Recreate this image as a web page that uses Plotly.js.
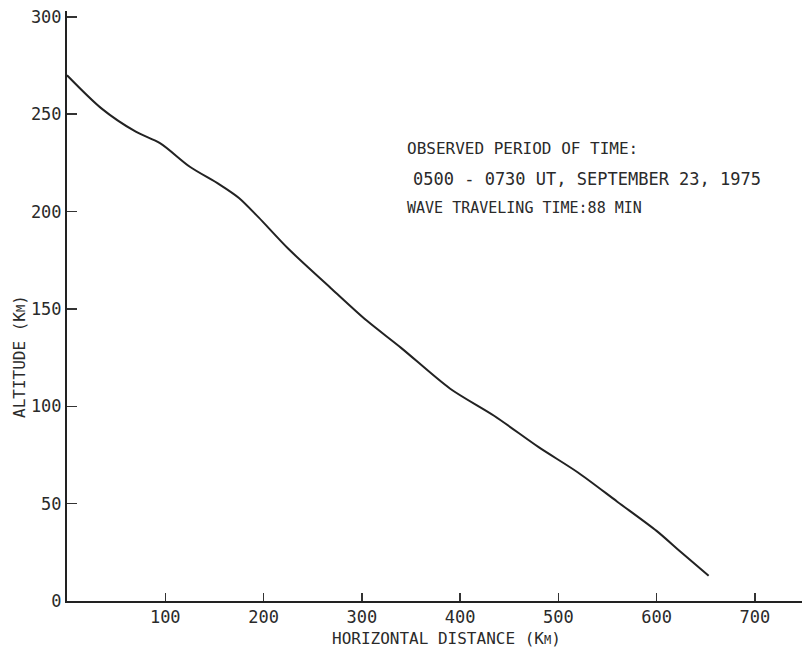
<!DOCTYPE html>
<html>
<head>
<meta charset="utf-8">
<script src="https://cdn.plot.ly/plotly-3.0.1.min.js"></script>
<style>html,body{margin:0;padding:0;background:#fff;}#chart{width:802px;height:651px;}</style>
</head>
<body>
<div id="chart"></div>
<script>
// Horizontal distance (km) and altitude (km)
const distanceKm = [0, 35, 70, 95, 125, 155, 175, 195, 225, 270, 305, 340, 390, 435, 480, 520, 560, 600, 625, 653];
const altitudeKm = [270, 253, 241, 235, 223, 214, 207, 197, 181, 160, 144, 130, 109, 95, 79, 66, 51, 36, 25, 13];

const xTicks = [100, 200, 300, 400, 500, 600, 700];
const yTicks = [0, 50, 100, 150, 200, 250, 300];

const noteLines = [
  "OBSERVED PERIOD OF TIME:",
  "0500 - 0730 UT, SEPTEMBER 23, 1975",
  "WAVE TRAVELING TIME:88 MIN"
];

const FONT = "DejaVu Sans Mono, monospace";
const INK = "#2a2a2a";

const trace = {
  x: distanceKm, y: altitudeKm, type: "scatter", mode: "lines",
  line: {color: "#222", width: 2, shape: "spline", smoothing: 0.8},
  hoverinfo: "x+y", showlegend: false
};

function pxToY(py) { return (601 - py) / 1.947; }
function pxToX(px) { return (px - 67) / 0.983; }

const layout = {
  width: 802, height: 651,
  margin: {l: 67, r: 0, t: 11, b: 50},
  paper_bgcolor: "#fff", plot_bgcolor: "#fff",
  font: {family: FONT, color: INK, size: 17},
  xaxis: {
    range: [0, 748], tickvals: xTicks, ticktext: xTicks.map(String),
    ticks: "inside", ticklen: 8, tickwidth: 1.5, tickcolor: "#333",
    showline: true, linecolor: "#222", linewidth: 2,
    showgrid: false, zeroline: false,
    tickfont: {family: FONT, size: 17, color: INK}
  },
  yaxis: {
    range: [0, 303], tickvals: yTicks, ticktext: yTicks.map(String),
    ticks: "inside", ticklen: 10, tickwidth: 1.5, tickcolor: "#333",
    showline: true, linecolor: "#222", linewidth: 2,
    showgrid: false, zeroline: false,
    tickfont: {family: FONT, size: 17, color: INK},
    ticklabelstandoff: 0
  },
  annotations: [
    {text: "HORIZONTAL DISTANCE (K<span style='font-size:12px'>M</span>)",
     xref: "x", yref: "paper", x: pxToX(447), y: 0, yshift: -37, xanchor: "center", yanchor: "middle",
     showarrow: false, font: {family: FONT, size: 16, color: INK}},
    {text: "ALTITUDE (K<span style='font-size:12px'>M</span>)", textangle: -90,
     xref: "paper", yref: "y", x: 0, y: pxToY(357), xshift: -47, xanchor: "center", yanchor: "middle",
     showarrow: false, font: {family: FONT, size: 16, color: INK}},
    {text: noteLines[0], xref: "x", yref: "y", x: pxToX(405), y: pxToY(149), xanchor: "left", yanchor: "middle", showarrow: false, font: {family: FONT, size: 16, color: INK}},
    {text: noteLines[1], xref: "x", yref: "y", x: pxToX(411), y: pxToY(179), xanchor: "left", yanchor: "middle", showarrow: false, font: {family: FONT, size: 17, color: INK}},
    {text: noteLines[2], xref: "x", yref: "y", x: pxToX(405), y: pxToY(208), xanchor: "left", yanchor: "middle", showarrow: false, font: {family: FONT, size: 15, color: INK}}
  ]
};

Plotly.newPlot("chart", [trace], layout, {displayModeBar: false, staticPlot: true});
</script>
</body>
</html>
